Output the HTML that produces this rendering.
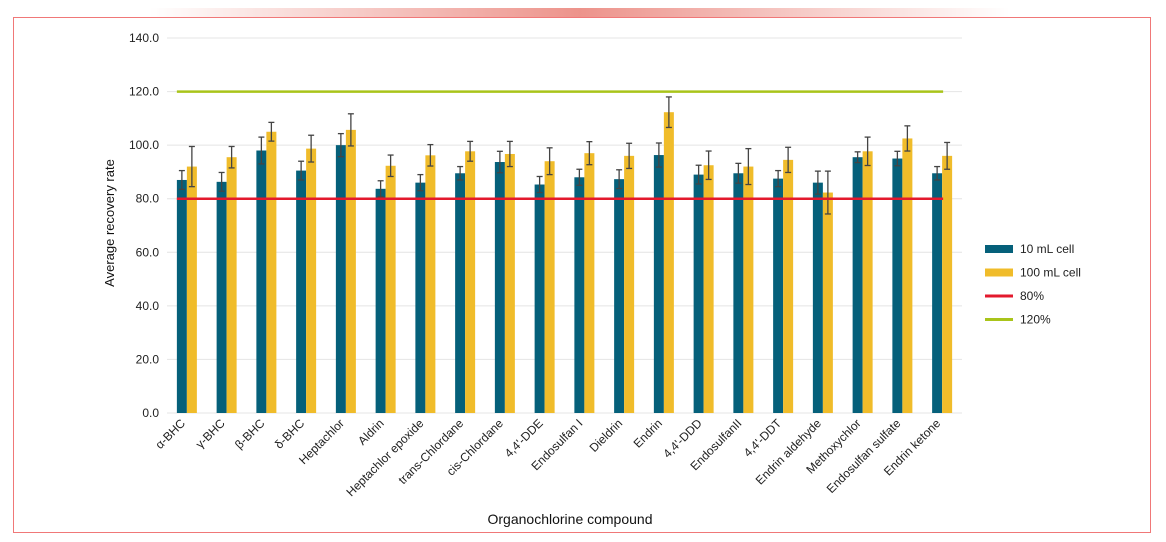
<!DOCTYPE html>
<html><head><meta charset="utf-8"><style>
body{margin:0;background:#fff;width:1166px;height:542px;overflow:hidden;font-family:"Liberation Sans",sans-serif}
#topbar{position:absolute;left:150px;top:8px;width:860px;height:9px;background:linear-gradient(90deg,rgba(240,140,130,0),rgba(232,120,110,0.8) 50%,rgba(240,140,130,0))}
#frame{position:absolute;left:13px;top:17px;width:1138px;height:516px;border:1px solid #f07878;box-sizing:border-box}
svg{position:absolute;left:0;top:0}
</style></head><body>
<div id="topbar"></div>
<div id="frame"></div>
<svg id="chart" width="1166" height="542"></svg>
<script>
const categories=["α-BHC","γ-BHC","β-BHC","δ-BHC","Heptachlor","Aldrin","Heptachlor epoxide","trans-Chlordane","cis-Chlordane","4,4'-DDE","Endosulfan I","Dieldrin","Endrin","4,4'-DDD","EndosulfanII","4,4'-DDT","Endrin aldehyde","Methoxychlor","Endosulfan sulfate","Endrin ketone"];
const cell10=[87,86.3,98,90.5,100,83.7,86,89.5,93.7,85.3,88,87.3,96.3,89,89.5,87.5,86,95.5,95,89.5];
const err10=[3.5,3.5,5,3.5,4.3,3,3,2.5,4,3,3,3.5,4.5,3.5,3.7,3,4.3,2,2.7,2.5];
const cell100=[92,95.5,105,98.7,105.7,92.3,96.2,97.7,96.7,94,97,96,112.3,92.5,92,94.5,82.3,97.7,102.5,96];
const err100=[7.5,4,3.5,5,6,4,4,3.7,4.7,5,4.3,4.7,5.7,5.3,6.7,4.7,8,5.3,4.7,5];
const yTicks=[0,20,40,60,80,100,120,140];
const thresholds=[80,120];
const NS="http://www.w3.org/2000/svg";
const svg=document.getElementById('chart');
const y0=413,y1=38,left=167,right=962;
const y=v=>y0-(v/140)*(y0-y1);
const band=(right-left)/categories.length;
const xc=i=>left+band*(i+0.5);
function mk(t,a,p){const e=document.createElementNS(NS,t);for(const k in a)e.setAttribute(k,a[k]);(p||svg).appendChild(e);return e;}
yTicks.forEach(v=>{
 const g=mk('line',{x1:167,x2:962,y1:y(v),y2:y(v),stroke:'#e4e4e4','stroke-width':1});
 
 
 const t=mk('text',{x:159,y:y(v)+4,'text-anchor':'end','font-size':12,fill:'#222'});
 t.textContent=v.toFixed(1);
 
 
});
const bw=10;
function errbar(cx,v,e){
 const c='#444';
 mk('line',{x1:cx,x2:cx,y1:y(v+e),y2:y(v-e),stroke:c,'stroke-width':1.3});
 mk('line',{x1:cx-3,x2:cx+3,y1:y(v+e),y2:y(v+e),stroke:c,'stroke-width':1.3});
 mk('line',{x1:cx-3,x2:cx+3,y1:y(v-e),y2:y(v-e),stroke:c,'stroke-width':1.3});
}
categories.forEach((c,i)=>{
 const cx=xc(i);
 const b1=mk('rect',{x:cx-bw,y:y(cell10[i]),width:bw,height:y0-y(cell10[i]),fill:'#05607a'});
 
 
 const b2=mk('rect',{x:cx,y:y(cell100[i]),width:bw,height:y0-y(cell100[i]),fill:'#f0bc2a'});
 
 
 errbar(cx-bw/2,cell10[i],err10[i]);
 errbar(cx+bw/2,cell100[i],err100[i]);
 const t=mk('text',{x:0,y:0,'text-anchor':'end','font-size':12,fill:'#222',transform:`translate(${cx-1},${424}) rotate(-45)`});
 t.textContent=c;
 
 
});
const tcol=['#e3192d','#a9c41a'];
thresholds.forEach((v,k)=>{
 const l=mk('line',{x1:xc(0)-bw,x2:xc(categories.length-1)+1,y1:y(v),y2:y(v),stroke:tcol[k],'stroke-width':2.5});
 
 
});
const yt=mk('text',{x:0,y:0,'text-anchor':'middle','font-size':13,fill:'#111',transform:'translate(114,223) rotate(-90)'});
yt.textContent='Average recovery rate';


const xt=mk('text',{x:570,y:524,'text-anchor':'middle','font-size':14,fill:'#111'});
xt.textContent='Organochlorine compound';


const leg=[['10 mL cell','#05607a','box'],['100 mL cell','#f0bc2a','box'],['80%','#e3192d','line'],['120%','#a9c41a','line']];
leg.forEach((L,k)=>{
 const ly=249+k*23.5;
 const g=mk('g',{});
 
 
 if(L[2]==='box')mk('rect',{x:985,y:ly-4,width:28,height:8,fill:L[1]},g);
 else mk('line',{x1:985,x2:1013,y1:ly,y2:ly,stroke:L[1],'stroke-width':3},g);
 const t=mk('text',{x:1020,y:ly+4,'font-size':12,fill:'#222'},g);
 t.textContent=L[0];
});
</script>
</body></html>
